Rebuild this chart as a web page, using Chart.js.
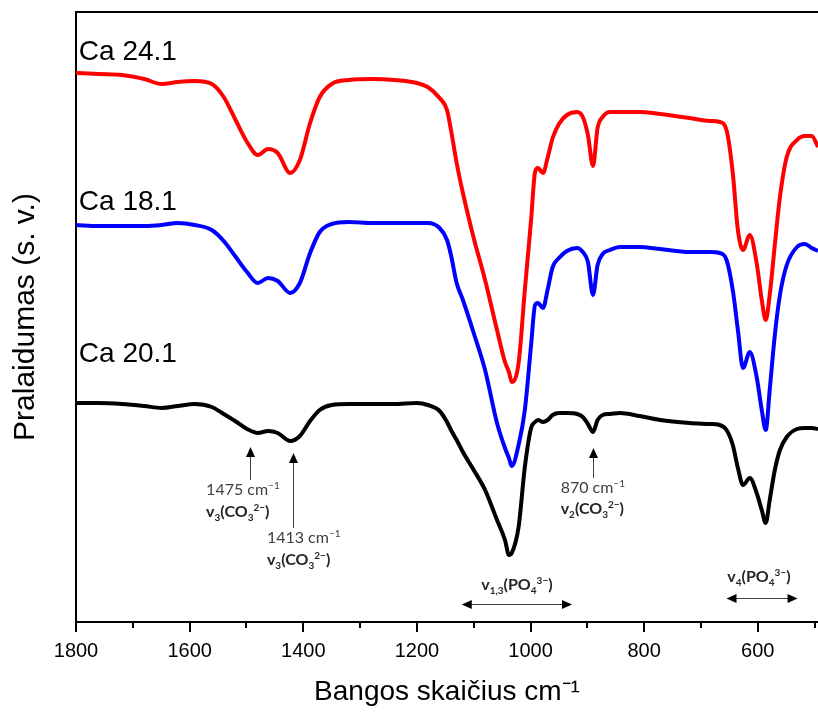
<!DOCTYPE html>
<html lang="lt">
<head>
  <meta charset="UTF-8">
  <title>FTIR spektrai</title>
  <script src="https://cdn.jsdelivr.net/npm/chart.js"></script>
  <style>
    html, body { margin: 0; padding: 0; background: #fff; }
  </style>
</head>
<body>
  <canvas id="ftirChart" width="818" height="717"></canvas>

  <script>
    // wavenumbers (cm-1) and transmittance (arbitrary units, curves offset)
    const wavenumbers = [
      1800, 1760, 1719, 1680, 1649, 1621, 1591, 1561, 1540, 1520,
      1499, 1480, 1462, 1445, 1423, 1406, 1388, 1371, 1350, 1320,
      1279, 1240, 1200, 1181, 1160, 1147, 1140, 1130, 1119, 1100,
      1080, 1059, 1045, 1038, 1033, 1021, 1010, 999, 992, 987,
      978, 970, 961, 950, 936, 918, 908, 899, 890, 882,
      873, 860, 843, 808, 772, 720, 684, 667, 655, 644,
      635, 626, 614, 602, 593, 586, 579, 570, 561, 549,
      531, 517, 505, 494
    ];
    const ca241 = [
      549, 548, 547, 543, 538, 540, 541, 538, 525, 503,
      480, 467, 473, 469, 449, 462, 499, 525, 538, 542,
      543, 542, 539, 535, 524, 512, 492, 459, 429, 384,
      342, 292, 260, 250, 240, 259, 332, 402, 450, 454,
      449, 464, 484, 498, 507, 510, 505, 487, 456, 494,
      505, 510, 510, 510, 508, 504, 501, 500, 492, 449,
      392, 372, 387, 359, 322, 302, 327, 377, 425, 465,
      482, 486, 486, 475
    ];
    const ca181 = [
      397, 396, 396, 396, 397, 399, 397, 392, 381, 366,
      350, 339, 344, 341, 329, 339, 369, 390, 398, 400,
      399, 399, 399, 399, 394, 382, 367, 339, 322, 289,
      252, 199, 174, 164, 156, 177, 212, 277, 317, 319,
      314, 332, 355, 364, 371, 374, 370, 360, 327, 357,
      368, 372, 375, 375, 373, 370, 370, 369, 362, 332,
      292, 254, 270, 245, 212, 192, 232, 287, 327, 357,
      375, 378, 374, 371
    ];
    const ca201 = [
      219, 219, 218, 216, 214, 216, 218, 215, 208, 201,
      193, 189, 191, 189, 181, 186, 201, 212, 217, 218,
      218, 218, 219, 217, 211, 200, 192, 182, 170, 152,
      132, 102, 82, 67, 69, 95, 155, 194, 200, 202,
      200, 202, 207, 209, 209, 208, 205, 198, 190, 202,
      207, 208, 209, 206, 202, 199, 198, 197, 192, 177,
      154, 137, 144, 129, 112, 99, 122, 152, 172, 185,
      193, 194, 194, 193
    ];
    const seriesNames = ['Ca 24.1', 'Ca 18.1', 'Ca 20.1'];
    const seriesColors = ['#ff0000', '#0000ff', '#000000'];
    const xTicks = [1800, 1700, 1600, 1500, 1400, 1300, 1200, 1100, 1000, 900, 800, 700, 600, 500];

    // label / annotation placement in data units (wavenumber, value)
    const nameLabels = [
      { wn: 1795, v: 562 },
      { wn: 1795, v: 412 },
      { wn: 1795, v: 260 }
    ];
    const upArrows = [
      { wn: 1494, from: 142, to: 175 },
      { wn: 1418, from: 94, to: 169 },
      { wn: 890, from: 144, to: 174 }
    ];
    const rangeArrows = [
      { from: 1121, to: 927, v: 18 },
      { from: 655, to: 530, v: 24 }
    ];
    const notes = [
      { wn: 1571, v: 127, align: 'left', bold: false, parts: [['1475 cm', 'n'], ['\u22121', 'p']] },
      { wn: 1571, v: 105, align: 'left', bold: true, parts: [['v', 'n'], ['3', 'b'], ['(CO', 'n'], ['3', 'b'], ['2\u2212', 'p'], [')', 'n']] },
      { wn: 1464, v: 79, align: 'left', bold: false, parts: [['1413 cm', 'n'], ['\u22121', 'p']] },
      { wn: 1464, v: 57, align: 'left', bold: true, parts: [['v', 'n'], ['3', 'b'], ['(CO', 'n'], ['3', 'b'], ['2\u2212', 'p'], [')', 'n']] },
      { wn: 947, v: 129, align: 'left', bold: false, parts: [['870 cm', 'n'], ['\u22121', 'p']] },
      { wn: 947, v: 108, align: 'left', bold: true, parts: [['v', 'n'], ['2', 'b'], ['(CO', 'n'], ['3', 'b'], ['2\u2212', 'p'], [')', 'n']] },
      { wn: 1024, v: 32, align: 'center', bold: true, parts: [['v', 'n'], ['1,3', 'b'], ['(PO', 'n'], ['4', 'b'], ['3\u2212', 'p'], [')', 'n']] },
      { wn: 598, v: 40, align: 'center', bold: true, parts: [['v', 'n'], ['4', 'b'], ['(PO', 'n'], ['4', 'b'], ['3\u2212', 'p'], [')', 'n']] }
    ];

    const noteFont = 'Lato, "Open Sans", sans-serif';

    function drawRich(ctx, parts, x, y, size, bold, align) {
      const fontFor = k => `${bold ? 'bold ' : ''}${k === 'n' ? size : Math.round(size * 0.62)}px ${noteFont}`;
      let w = 0;
      parts.forEach(([t, k]) => { ctx.font = fontFor(k); w += ctx.measureText(t).width; });
      let cx = align === 'center' ? x - w / 2 : x;
      ctx.textAlign = 'left';
      ctx.textBaseline = 'alphabetic';
      parts.forEach(([t, k]) => {
        ctx.font = fontFor(k);
        const dy = k === 'b' ? size * 0.28 : k === 'p' ? -size * 0.4 : 0;
        ctx.fillText(t, cx, y + dy);
        cx += ctx.measureText(t).width;
      });
    }

    function arrowHead(ctx, x, y, dx, dy) {
      // tip at (x, y), pointing along (dx, dy)
      const len = 10, half = 4.5;
      const px = -dy, py = dx;
      ctx.beginPath();
      ctx.moveTo(x, y);
      ctx.lineTo(x - dx * len + px * half, y - dy * len + py * half);
      ctx.lineTo(x - dx * len - px * half, y - dy * len - py * half);
      ctx.closePath();
      ctx.fill();
    }

    const decorations = {
      id: 'decorations',
      afterDraw(chart) {
        const { ctx, chartArea, scales: { x, y } } = chart;
        ctx.save();

        // top frame line
        ctx.strokeStyle = '#000';
        ctx.lineWidth = 2;
        ctx.beginPath();
        ctx.moveTo(chartArea.left - 1, chartArea.top);
        ctx.lineTo(chartArea.right, chartArea.top);
        ctx.stroke();

        // x tick marks, longer at the labelled ones
        xTicks.forEach(v => {
          const px = Math.round(x.getPixelForValue(v));
          const len = v % 200 === 0 ? 10 : 6;
          ctx.beginPath();
          ctx.moveTo(px, chartArea.bottom);
          ctx.lineTo(px, chartArea.bottom + len);
          ctx.stroke();
        });

        // sample names
        ctx.fillStyle = '#000';
        ctx.font = '28px "Liberation Sans", Arial, sans-serif';
        ctx.textAlign = 'left';
        ctx.textBaseline = 'alphabetic';
        nameLabels.forEach((p, i) => {
          ctx.fillText(seriesNames[i], x.getPixelForValue(p.wn), y.getPixelForValue(p.v));
        });

        // peak arrows
        ctx.strokeStyle = '#404040';
        ctx.fillStyle = '#000';
        ctx.lineWidth = 1;
        upArrows.forEach(a => {
          const px = Math.round(x.getPixelForValue(a.wn)) + 0.5;
          const y0 = y.getPixelForValue(a.from);
          const y1 = y.getPixelForValue(a.to);
          ctx.beginPath();
          ctx.moveTo(px, y0);
          ctx.lineTo(px, y1 + 8);
          ctx.stroke();
          arrowHead(ctx, px, y1, 0, -1);
        });
        rangeArrows.forEach(a => {
          const x0 = x.getPixelForValue(a.from);
          const x1 = x.getPixelForValue(a.to);
          const py = Math.round(y.getPixelForValue(a.v)) + 0.5;
          ctx.beginPath();
          ctx.moveTo(x0 + 8, py);
          ctx.lineTo(x1 - 8, py);
          ctx.stroke();
          arrowHead(ctx, x0, py, -1, 0);
          arrowHead(ctx, x1, py, 1, 0);
        });

        // band labels
        notes.forEach(n => {
          ctx.fillStyle = n.bold ? '#262626' : '#404040';
          drawRich(ctx, n.parts, x.getPixelForValue(n.wn), y.getPixelForValue(n.v), 16, n.bold, n.align);
        });

        ctx.restore();
      }
    };

    Chart.defaults.font.family = '"Liberation Sans", Arial, sans-serif';
    Chart.defaults.color = '#000';

    const series = [ca241, ca181, ca201];

    new Chart(document.getElementById('ftirChart'), {
      type: 'line',
      data: {
        datasets: series.map((vals, i) => ({
          label: seriesNames[i],
          data: wavenumbers.map((w, j) => ({ x: w, y: vals[j] })),
          borderColor: seriesColors[i],
          borderWidth: 4,
          pointRadius: 0,
          fill: false,
          cubicInterpolationMode: 'monotone'
        }))
      },
      options: {
        responsive: false,
        animation: false,
        layout: { autoPadding: false, padding: { top: 12, right: 0, bottom: 0, left: 0 } },
        plugins: {
          legend: { display: false },
          tooltip: { enabled: false }
        },
        scales: {
          x: {
            type: 'linear',
            reverse: true,
            min: 494,
            max: 1800,
            afterBuildTicks: scale => { scale.ticks = xTicks.map(v => ({ value: v })); },
            afterFit: scale => {
              scale.height = 95;
              scale.paddingLeft = 0;
              scale.paddingRight = 0;
            },
            ticks: {
              autoSkip: false,
              maxRotation: 0,
              padding: 11,
              color: '#000',
              font: { size: 20 },
              callback: v => (v % 200 === 0 ? String(v) : '')
            },
            grid: { display: true, drawOnChartArea: false, drawTicks: true, tickLength: 6, color: 'rgba(0,0,0,0)' },
            border: { display: true, color: '#000', width: 2 },
            title: {
              display: true,
              text: 'Bangos skaičius cm⁻¹',
              color: '#000',
              font: { size: 28 },
              padding: { top: 0, bottom: 8 }
            }
          },
          y: {
            min: 0,
            max: 610,
            afterFit: scale => { scale.width = 76; },
            ticks: { display: false },
            grid: { display: true, drawOnChartArea: false, drawTicks: false, color: 'rgba(0,0,0,0)' },
            border: { display: true, color: '#000', width: 2 },
            title: {
              display: true,
              text: 'Pralaidumas (s. v.)',
              color: '#000',
              font: { size: 30 },
              padding: { top: 8, bottom: 0 }
            }
          }
        }
      },
      plugins: [decorations]
    });
  </script>
</body>
</html>
